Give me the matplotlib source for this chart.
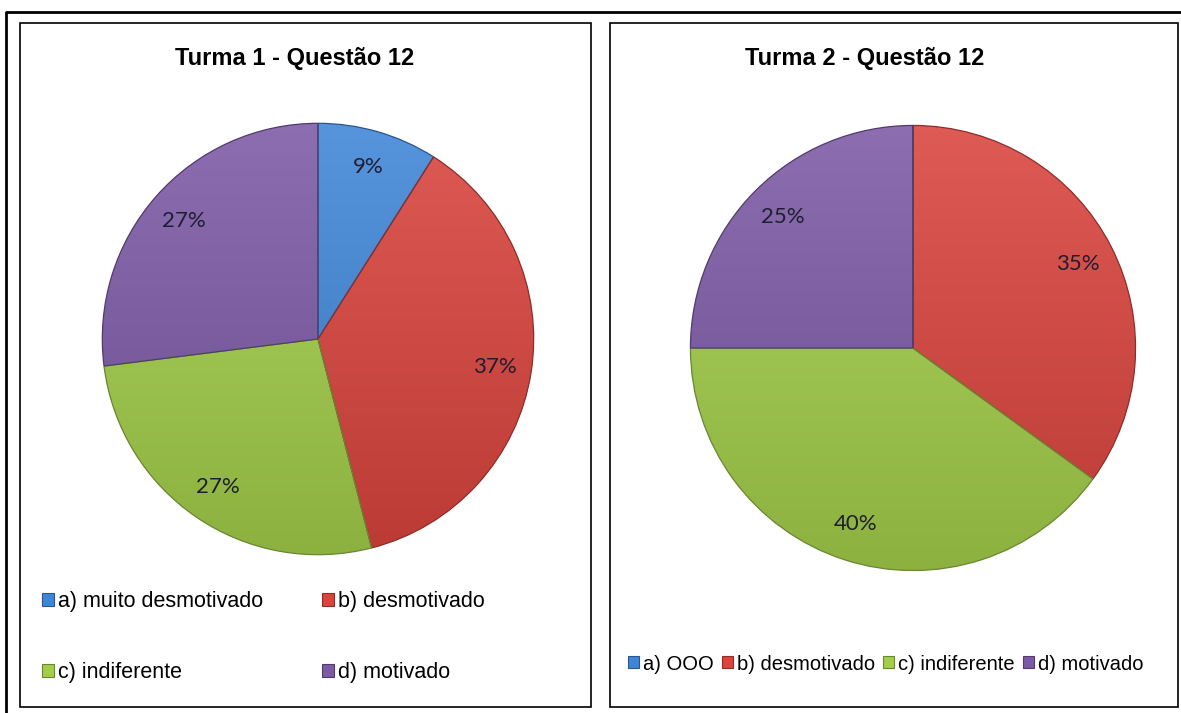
import matplotlib
matplotlib.use("Agg")
import matplotlib.pyplot as plt
import matplotlib.colors as mcolors
import numpy as np
from matplotlib.lines import Line2D
from matplotlib.patches import Rectangle

# ── data ──────────────────────────────────────────────────────────
titles = ["Turma 1 - Questão 12", "Turma 2 - Questão 12"]
labels1 = ["a) muito desmotivado", "b) desmotivado", "c) indiferente", "d) motivado"]
labels2 = ["a) OOO", "b) desmotivado", "c) indiferente", "d) motivado"]
turma1 = [9, 37, 27, 27]
turma2 = [0, 35, 40, 25]
colors = ["#3F86D8", "#DA443D", "#A3CE4A", "#7C5AA6"]

W, H = 1181, 713
fig = plt.figure(figsize=(W / 100, H / 100), dpi=100)

def fx(px): return px / W
def fy(py): return 1 - py / H

# ── frames ────────────────────────────────────────────────────────
fig.add_artist(Line2D([fx(6), fx(6), fx(1181)], [fy(713), fy(12), fy(12)],
                      color="black", lw=2))
for x0, x1 in [(20, 591), (610, 1178)]:
    fig.add_artist(Rectangle((fx(x0), fy(707)), fx(x1 - x0), (707 - 23) / H,
                             fill=False, ec="black", lw=1.2))

def pct(v):
    return "" if v < 0.5 else f"{v:.0f}%"

def shade(c, f):
    r = np.array(mcolors.to_rgb(c))
    return np.clip(r + f * (1 - r) if f > 0 else r * (1 + f), 0, 1)

def draw_pie(vals, cx, cy, r):
    ax = fig.add_axes([fx(cx - r), fy(cy + r), fx(2 * r), 2 * r / H])
    wedges, _, texts = ax.pie(vals, colors=colors, startangle=90, counterclock=False,
                              autopct=pct, pctdistance=0.83, radius=1,
                              wedgeprops=dict(linewidth=0))
    # vertical gradient inside every slice, lighter at the top
    t = np.linspace(0, 1, 256)[:, None]
    for w, c in zip(wedges, colors):
        top, bot = shade(c, 0.12), shade(c, -0.14)
        img = top[None, None, :] * (1 - t[..., None]) + bot[None, None, :] * t[..., None]
        img = np.repeat(img, 2, axis=1)
        im = ax.imshow(img, extent=(-1, 1, -1, 1), origin="upper", zorder=1.5)
        im.set_clip_path(w)
        w.set_facecolor("none")
        w.set_edgecolor(shade(c, -0.35))
        w.set_linewidth(0.9)
        w.set_zorder(2)
    for tx in texts:
        tx.set_fontsize(16)
        tx.set_color("#1e1e30")
        tx.set_family(["Lato", "DejaVu Sans"])
        tx.set_zorder(3)
    ax.set_xlim(-1.02, 1.02)
    ax.set_ylim(-1.02, 1.02)
    ax.set_aspect("equal")
    ax.axis("off")
    return wedges

w1 = draw_pie(turma1, 318, 339, 220)
w2 = draw_pie(turma2, 913, 348, 227)

fig.text(fx(295), fy(58), titles[0], ha="center", va="center", fontsize=17,
         fontweight="bold", family="Liberation Sans")
fig.text(fx(865), fy(58), titles[1], ha="center", va="center", fontsize=17,
         fontweight="bold", family="Liberation Sans")

# ── legends ───────────────────────────────────────────────────────
def handles():
    return [Rectangle((0, 0), 1, 1, fc=c, ec=shade(c, -0.35), lw=0.8) for c in colors]

h1 = handles()
order = [0, 2, 1, 3]  # row-wise fill for 2 columns
fig.legend([h1[i] for i in order], [labels1[i] for i in order], ncol=2,
           loc="center left", bbox_to_anchor=(fx(38), fy(637)),
           frameon=False, prop=dict(family="Liberation Sans", size=15.5),
           handlelength=0.55, handleheight=0.55, handletextpad=0.2,
           labelspacing=2.3, columnspacing=2.7, borderaxespad=0, borderpad=0.2)
fig.legend(handles(), labels2, ncol=4, loc="center left",
           bbox_to_anchor=(fx(624), fy(664)),
           frameon=False, prop=dict(family="Liberation Sans", size=14.5),
           handlelength=0.55, handleheight=0.55, handletextpad=0.2,
           columnspacing=0.4, borderaxespad=0, borderpad=0.2)

fig.savefig("out.png", dpi=100)
